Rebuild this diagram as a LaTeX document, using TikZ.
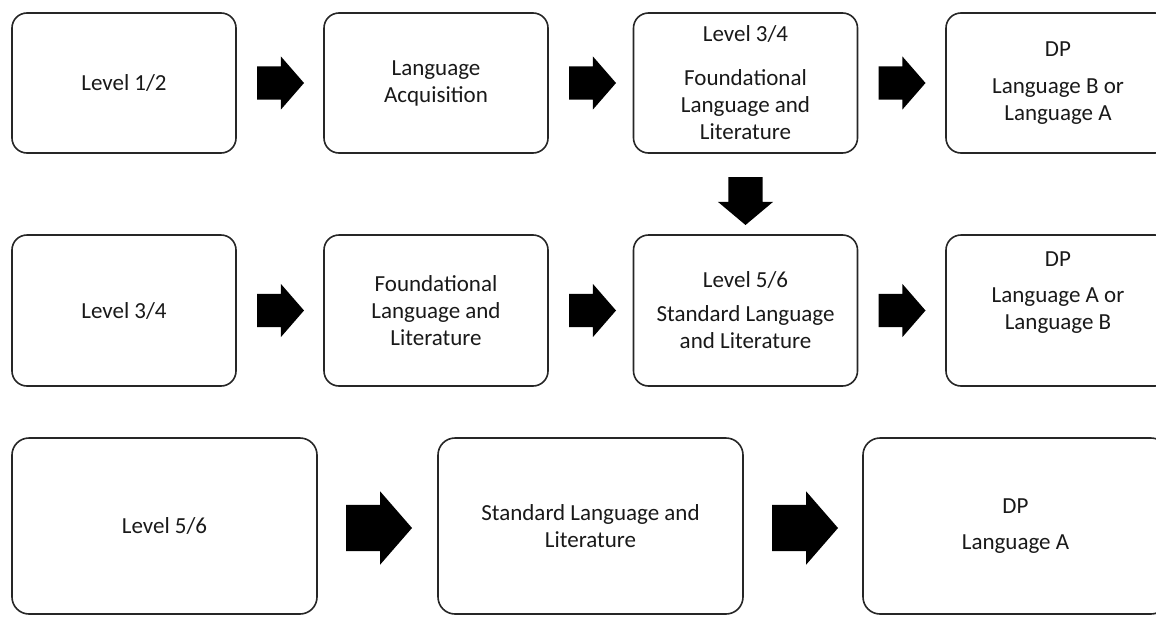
\documentclass[tikz,border=0pt]{standalone}
\usepackage{fontspec}
\setmainfont{Carlito}
\usetikzlibrary{shapes.arrows,calc}
\begin{document}
\begin{tikzpicture}[x=1pt,y=-1pt,
  box/.style={draw=black!85, line width=1.6pt, rounded corners=15pt,
    minimum width=224pt, minimum height=140pt, inner sep=0pt, align=center,
    font=\fontsize{23}{27}\selectfont, text=black!90},
  tallbox/.style={box, minimum height=151pt},
  widebox/.style={box, rounded corners=17pt, minimum width=305pt, minimum height=176pt},
  rarrow/.style={single arrow, fill=black, draw=none, inner xsep=0pt, inner ysep=16.5pt,
    minimum height=47pt, single arrow head extend=10pt,
    single arrow tip angle=98, anchor=tail},
  bigrarrow/.style={rarrow, inner ysep=23pt, minimum height=66pt,
    single arrow head extend=13.5pt},
  darrow/.style={rarrow, rotate=-90, inner ysep=17pt, minimum height=48pt,
    single arrow head extend=10.5pt, single arrow tip angle=100}
]
\path[use as bounding box, clip] (0,0) rectangle (1156,616);

% row 1
\node[box] (A) at (124,83) {Level 1/2};
\node[box] (B) at (436,83) {Language\\Acquisition};
\node[box] (C) at (745.5,83) {Level 3/4\\[17pt]Foundational\\Language and\\Literature};
\node[box] (D) at (1058,83) {DP\\[10pt]Language B or\\Language A};

% row 2
\node[tallbox] (E) at (124,310.5) {Level 3/4};
\node[tallbox] (F) at (436,310.5) {Foundational\\Language and\\Literature};
\node[tallbox] (G) at (745.5,310.5) {Level 5/6\\[7pt]Standard Language\\and Literature};
\node[tallbox] (H) at (1058,310.5) {DP\\[9pt]Language A or\\Language B\\[12pt]\mbox{}};

% row 3
\node[widebox] (I) at (164.5,526) {Level 5/6};
\node[widebox] (J) at (590.5,526) {Standard Language and\\Literature};
\node[widebox] (K) at (1015.5,526) {DP\\[9pt]Language A};

% arrows row 1
\node[rarrow] (ab) at ($(A.east)+(20,0)$) {};
\node[rarrow] (bc) at ($(B.east)+(20,0)$) {};
\node[rarrow] (cd) at ($(C.east)+(20,0)$) {};
% down arrow
\node[darrow] (cg) at ($(C.south)+(0,23)$) {};
% arrows row 2
\node[rarrow] (ef) at ($(E.east)+(20,0)$) {};
\node[rarrow] (fg) at ($(F.east)+(20,0)$) {};
\node[rarrow] (gh) at ($(G.east)+(20,0)$) {};
% arrows row 3
\node[bigrarrow] (ij) at ($(I.east)+(28,2)$) {};
\node[bigrarrow] (jk) at ($(J.east)+(28,2)$) {};
\end{tikzpicture}
\end{document}
